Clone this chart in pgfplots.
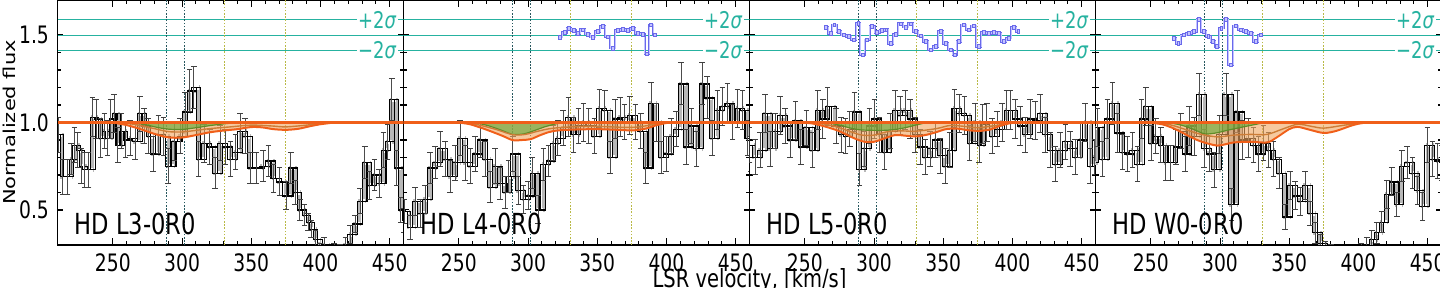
\documentclass[border=0pt]{standalone}
\usepackage{pgfplots}
\pgfplotsset{compat=1.18}
\usepackage{pgfplotstable}
\usepackage{fontspec}
\setmainfont{DejaVu Sans}
\usepackage{graphicx}

\definecolor{sig}{RGB}{38,178,160}
\definecolor{vteal}{RGB}{40,88,95}
\definecolor{volive}{RGB}{185,185,70}
\definecolor{ored}{RGB}{240,95,25}
\definecolor{omid}{RGB}{205,125,55}
\definecolor{ofill}{RGB}{240,165,95}
\definecolor{gfill}{RGB}{105,170,60}
\definecolor{gline}{RGB}{95,140,40}
\definecolor{resb}{RGB}{105,105,235}
\definecolor{resl}{RGB}{195,195,255}

\pgfplotstableread{
v f e
210.5 0.93 0.10
213.8 0.69 0.10
217.2 0.69 0.10
219.8 0.79 0.09
222.2 0.87 0.10
224.7 0.84 0.10
227.0 0.75 0.10
229.5 0.73 0.10
232.5 0.73 0.10
235.3 1.03 0.11
237.8 1.02 0.11
241.0 0.91 0.11
244.0 0.95 0.10
246.0 0.91 0.10
248.5 1.02 0.11
251.0 1.05 0.11
253.5 0.87 0.10
256.0 0.95 0.10
259.0 0.90 0.10
262.5 0.91 0.10
266.0 0.89 0.10
269.5 1.05 0.10
272.5 0.98 0.10
275.5 0.92 0.10
279.0 0.82 0.10
283.0 0.93 0.11
286.5 0.92 0.11
290.0 0.75 0.10
294.5 0.89 0.11
298.7 0.92 0.10
302.2 1.06 0.11
305.5 1.18 0.12
308.5 1.20 0.12
312.0 0.79 0.10
316.0 0.88 0.11
320.0 0.86 0.10
324.0 0.71 0.09
327.5 0.88 0.10
331.0 0.86 0.10
335.0 0.79 0.10
338.5 0.83 0.10
342.0 0.95 0.10
345.5 0.92 0.10
349.0 0.74 0.09
353.5 0.74 0.09
358.5 0.75 0.09
362.5 0.78 0.09
366.0 0.68 0.08
370.5 0.66 0.08
375.0 0.58 0.08
378.5 0.74 0.09
381.5 0.60 0.07
385.0 0.50 0.06
388.5 0.47 0.06
391.0 0.43 0.05
393.3 0.39 0.05
396.3 0.33 0.05
399.5 0.27 0.04
402.5 0.30 0.04
406.0 0.25 0.04
410.0 0.27 0.04
414.0 0.26 0.04
418.0 0.30 0.04
421.5 0.36 0.05
425.0 0.42 0.05
428.5 0.55 0.07
432.0 0.77 0.09
435.5 0.64 0.08
439.0 0.70 0.09
442.5 0.65 0.08
445.5 0.84 0.10
448.5 0.89 0.10
451.5 1.13 0.12
455.0 0.74 0.10
458.0 0.50 0.07
460.5 0.44 0.07
}\dataA

\pgfplotstableread{
v f e
210.5 0.49 0.07
214.8 0.40 0.07
218.3 0.55 0.08
222.0 0.48 0.08
225.7 0.56 0.08
229.2 0.74 0.09
232.9 0.77 0.09
236.4 0.85 0.10
240.0 0.79 0.10
243.8 0.69 0.09
247.2 0.77 0.10
250.9 0.91 0.10
254.5 0.77 0.10
258.0 0.75 0.10
261.8 0.82 0.10
265.3 0.90 0.10
268.9 0.79 0.10
272.6 0.63 0.09
276.2 0.75 0.10
279.8 0.65 0.09
283.3 0.60 0.09
286.0 0.69 0.09
289.0 0.82 0.10
293.0 0.61 0.08
296.7 0.56 0.08
300.0 0.58 0.08
303.0 0.71 0.09
307.2 0.50 0.08
311.2 0.76 0.09
314.8 0.78 0.09
318.1 0.88 0.10
321.5 0.91 0.10
325.3 0.97 0.10
329.2 1.03 0.11
332.8 0.93 0.10
336.5 0.98 0.10
340.1 1.00 0.11
343.9 0.98 0.10
347.9 0.92 0.10
351.5 1.08 0.11
355.4 1.07 0.11
359.3 0.80 0.09
363.0 1.02 0.11
366.5 1.03 0.11
369.8 1.00 0.10
373.5 1.04 0.11
377.5 1.00 0.10
381.4 0.95 0.10
385.0 0.74 0.09
388.8 1.11 0.12
392.5 1.00 0.11
396.1 0.80 0.09
399.7 0.82 0.10
403.3 0.92 0.10
406.9 0.96 0.10
410.6 1.22 0.12
414.2 0.86 0.10
417.9 0.98 0.10
421.8 0.85 0.10
425.6 1.22 0.12
429.2 1.14 0.12
433.0 0.91 0.10
436.9 1.07 0.11
440.5 1.09 0.11
444.1 1.11 0.11
447.7 1.00 0.10
451.4 1.08 0.11
455.0 1.07 0.11
458.5 0.91 0.10
461.0 0.82 0.10
}\dataB

\pgfplotstableread{
v f e
210.0 0.87 0.10
214.0 0.80 0.10
217.8 0.84 0.10
221.3 1.05 0.11
225.0 0.85 0.10
228.6 0.95 0.10
232.2 1.04 0.11
235.8 0.98 0.10
239.4 0.90 0.10
243.3 1.01 0.11
247.0 0.86 0.10
251.2 0.97 0.10
255.5 0.84 0.10
259.3 1.07 0.11
263.0 1.02 0.11
266.5 1.09 0.11
272.5 0.98 0.10
276.1 0.93 0.10
279.5 0.92 0.10
282.5 0.96 0.10
285.8 1.06 0.11
289.4 0.73 0.09
293.0 0.85 0.10
296.6 0.98 0.10
300.3 1.02 0.11
303.9 0.93 0.10
307.6 0.83 0.10
311.5 0.95 0.10
315.2 1.07 0.11
318.9 1.04 0.11
322.5 1.07 0.11
326.1 1.02 0.11
329.7 0.93 0.10
333.2 0.86 0.10
336.9 0.80 0.10
340.6 0.85 0.10
344.2 0.90 0.10
347.8 0.81 0.10
351.4 0.75 0.10
354.7 0.84 0.10
358.0 1.08 0.11
361.6 1.05 0.11
365.3 1.04 0.11
369.1 0.88 0.10
373.1 1.00 0.11
375.8 0.87 0.10
378.6 0.99 0.11
381.5 1.00 0.11
385.2 0.92 0.10
388.8 0.96 0.10
392.5 1.00 0.11
395.6 1.07 0.11
398.6 1.07 0.11
402.0 1.02 0.11
405.6 0.98 0.11
409.2 0.93 0.10
412.8 1.02 0.11
416.5 1.01 0.11
420.1 1.05 0.11
423.7 0.93 0.10
427.3 0.84 0.10
430.9 0.76 0.10
434.5 0.84 0.10
438.2 0.89 0.10
441.8 0.85 0.10
445.4 0.80 0.10
449.0 0.90 0.10
452.6 1.00 0.11
456.2 0.75 0.10
459.5 0.80 0.10
}\dataC

\pgfplotstableread{
v f e
207.8 0.77 0.10
211.4 0.97 0.11
215.0 0.79 0.10
218.6 1.02 0.11
222.2 1.11 0.12
225.8 0.94 0.11
229.5 0.83 0.10
233.1 0.82 0.10
236.7 0.84 0.10
240.3 0.76 0.10
243.3 1.02 0.11
246.3 1.09 0.11
250.0 0.88 0.10
253.6 0.92 0.10
257.2 0.87 0.10
260.8 0.77 0.10
264.4 0.77 0.10
268.0 0.86 0.10
271.6 0.95 0.10
274.6 0.82 0.10
277.6 0.98 0.11
281.3 0.92 0.11
285.0 1.16 0.12
288.6 0.85 0.11
292.0 0.82 0.10
295.8 0.73 0.10
299.5 0.93 0.11
304.2 1.16 0.12
308.3 0.53 0.09
312.2 1.06 0.12
316.0 0.90 0.11
320.2 0.91 0.11
324.2 0.87 0.10
327.8 0.82 0.10
331.4 0.88 0.10
335.0 0.84 0.10
338.6 0.79 0.10
342.8 0.71 0.09
347.0 0.46 0.07
350.6 0.64 0.08
354.2 0.58 0.08
357.8 0.55 0.08
361.4 0.64 0.08
365.0 0.48 0.07
368.7 0.37 0.06
372.3 0.31 0.05
376.0 0.27 0.05
380.0 0.25 0.05
384.0 0.22 0.05
390.0 0.20 0.05
396.0 0.22 0.05
402.0 0.26 0.05
406.0 0.29 0.05
409.6 0.33 0.05
413.2 0.37 0.06
416.8 0.43 0.06
420.5 0.59 0.08
424.1 0.66 0.08
427.7 0.53 0.07
431.3 0.75 0.09
435.2 0.77 0.09
439.0 0.71 0.09
442.6 0.61 0.08
446.2 0.52 0.08
449.8 0.87 0.10
453.4 0.79 0.10
457.2 0.78 0.10
460.5 0.77 0.10
}\dataD

\pgfplotstableread{
v r
323.1 1.488
326.5 1.514
329.5 1.539
332.8 1.526
336.0 1.510
339.5 1.530
343.0 1.505
346.5 1.488
350.2 1.520
353.8 1.549
357.4 1.490
361.0 1.425
364.7 1.526
368.3 1.533
372.0 1.526
375.5 1.539
379.2 1.510
382.8 1.505
385.8 1.392
388.8 1.558
391.8 1.500
}\resB

\pgfplotstableread{
v r
265.2 1.545
268.5 1.510
271.2 1.558
274.6 1.520
278.2 1.500
281.8 1.491
285.4 1.472
288.6 1.568
291.6 1.387
295.0 1.472
298.6 1.549
302.2 1.514
305.8 1.526
308.8 1.530
311.8 1.453
315.5 1.505
319.1 1.564
322.7 1.545
326.3 1.564
329.9 1.520
333.5 1.495
337.1 1.463
340.8 1.415
344.4 1.434
348.0 1.520
351.6 1.453
355.2 1.415
358.2 1.387
361.2 1.463
364.9 1.558
368.5 1.530
372.1 1.552
375.7 1.434
379.3 1.514
382.9 1.510
386.5 1.514
390.1 1.510
393.8 1.463
397.4 1.482
401.0 1.545
404.2 1.520
}\resC

\pgfplotstableread{
v r
266.5 1.482
269.8 1.453
273.5 1.500
277.6 1.510
281.3 1.520
284.9 1.590
288.2 1.520
291.5 1.491
294.8 1.463
297.9 1.434
300.9 1.539
304.2 1.590
307.8 1.330
311.4 1.552
315.0 1.530
318.6 1.520
322.2 1.510
325.8 1.463
329.4 1.500
}\resD

\pgfplotsset{
  panel/.style={
    scale only axis, width=221.79pt, height=122.5pt,
    anchor=south west,
    xmin=210, xmax=460, ymin=0.3, ymax=1.7,
    xtick={250,300,350,400,450}, minor x tick num=4,
    ytick={0.5,1.0,1.5}, minor y tick num=4,
    tick align=inside, xtick pos=both, ytick pos=both,
    major tick length=3.4pt, minor tick length=2pt,
    every tick/.style={black, line width=0.55pt},
    axis line style={line width=0.7pt},
    /pgf/number format/assume math mode=true,
    xticklabel style={font=\fontsize{12}{14}\selectfont, yshift=-1pt},
    yticklabel style={font=\fontsize{12}{14}\selectfont, /pgf/number format/fixed, /pgf/number format/fixed zerofill, /pgf/number format/precision=1, xshift=-2pt},
  },
  noy/.style={yticklabels={}},
}

\newcommand{\guides}{%
  \addplot[sig, line width=0.45pt] coordinates {(210,1.587) (460,1.587)};
  \addplot[sig, line width=0.45pt] coordinates {(210,1.5) (460,1.5)};
  \addplot[sig, line width=0.45pt] coordinates {(210,1.413) (460,1.413)};
  \addplot[vteal, line width=0.6pt, dash pattern=on 0.8pt off 0.8pt] coordinates {(289,0.3) (289,1.7)};
  \addplot[vteal, line width=0.6pt, dash pattern=on 0.8pt off 0.8pt] coordinates {(301.5,0.3) (301.5,1.7)};
  \addplot[volive, line width=0.6pt, dash pattern=on 0.8pt off 0.8pt] coordinates {(331,0.3) (331,1.7)};
  \addplot[volive, line width=0.6pt, dash pattern=on 0.8pt off 0.8pt] coordinates {(375,0.3) (375,1.7)};
}
\newcommand{\spec}[1]{%
  \addplot[const plot mark mid, black!28, line width=2pt, xshift=1pt] table[x=v,y=f] {#1};
  \addplot[jump mark mid, white, line width=2.1pt, xshift=1pt] table[x=v,y=f] {#1};
  \addplot[const plot mark mid, black, line width=0.7pt] table[x=v,y=f] {#1};
  \addplot[const plot mark mid, black, line width=0.7pt, xshift=2pt] table[x=v,y=f] {#1};
  \addplot[draw=none, mark=none, error bars/.cd, y dir=both, y explicit,
     error bar style={draw=black!70, line width=0.45pt},
     error mark options={rotate=90, draw=black!75, mark size=1.8pt, line width=0.5pt}] table[x=v,y=f,y error=e] {#1};
}
\newcommand{\resid}[1]{%
  \addplot[const plot mark mid, resb, line width=1.3pt] table[x=v,y=r] {#1};
  \addplot[const plot mark mid, resl, line width=0.45pt, mark=square*, mark size=0.9pt,
     mark options={fill=resl, draw=resb, line width=0.35pt}] table[x=v,y=r] {#1};
}
\newcommand{\siglabels}{%
  \node[anchor=east, fill=white, inner sep=1pt, text=sig, font=\fontsize{11.5}{13}\selectfont] at (rel axis cs:0.985,0.919) {+2\textit{σ}};
  \node[anchor=east, fill=white, inner sep=1pt, text=sig, font=\fontsize{11.5}{13}\selectfont] at (rel axis cs:0.985,0.795) {−2\textit{σ}};
}
\newcommand{\cont}{\addplot[ored, line width=1.2pt] coordinates {(210,1) (460,1)};}
\newcommand{\hd}[1]{\node[anchor=base west, font=\fontsize{14.5}{16}\selectfont] at (rel axis cs:0.033,0.041) {#1};}

\begin{document}
\scalebox{0.78}[1]{%
\begin{tikzpicture}
\useasboundingbox (-36.86pt,-21.5pt) rectangle (886.22pt,122.5pt);

% ---------------- panel 1
\begin{axis}[panel, at={(0pt,0pt)}]
\guides
\spec{\dataA}
\addplot[fill=ofill, fill opacity=0.6, draw=none, smooth] coordinates {(250,1) (260,0.985) (270,0.962) (280,0.935) (290,0.915) (300,0.914) (310,0.928) (320,0.944) (330,0.954) (340,0.962) (350,0.974) (358,0.972) (366,0.962) (375,0.958) (384,0.964) (392,0.978) (400,0.99) (410,1)} -- cycle;
\addplot[fill=gfill, fill opacity=0.65, draw=none, smooth] coordinates {(262,1) (272,0.99) (282,0.972) (290,0.962) (300,0.96) (310,0.97) (320,0.982) (330,0.992) (340,1)} -- cycle;
\addplot[gline, line width=0.6pt, smooth] coordinates {(262,1) (272,0.99) (282,0.972) (290,0.962) (300,0.96) (310,0.97) (320,0.982) (330,0.992) (340,1)};
\addplot[omid, line width=0.7pt, smooth] coordinates {(255,1) (265,0.99) (280,0.965) (290,0.948) (300,0.946) (310,0.955) (320,0.965) (335,0.975) (350,0.985) (365,0.98) (375,0.975) (390,0.985) (405,1)};
\addplot[ored, line width=1pt, smooth] coordinates {(250,1) (260,0.985) (270,0.962) (280,0.935) (290,0.915) (300,0.914) (310,0.928) (320,0.944) (330,0.954) (340,0.962) (350,0.974) (358,0.972) (366,0.962) (375,0.958) (384,0.964) (392,0.978) (400,0.99) (410,1)};
\cont
\siglabels
\hd{HD L3-0R0}
\end{axis}

% ---------------- panel 2
\begin{axis}[panel, noy, at={(221.79pt,0pt)}]
\guides
\spec{\dataB}
\addplot[fill=ofill, fill opacity=0.6, draw=none, smooth] coordinates {(250,1) (258,0.99) (266,0.97) (274,0.947) (282,0.922) (289,0.899) (296,0.9) (302,0.905) (308,0.925) (315,0.945) (322,0.955) (335,0.96) (350,0.962) (365,0.958) (376,0.955) (385,0.965) (393,0.985) (400,0.997) (405,1)} -- cycle;
\addplot[fill=gfill, fill opacity=0.65, draw=none, smooth] coordinates {(262,1) (272,0.98) (281,0.955) (289,0.932) (297,0.935) (305,0.955) (312,0.975) (320,0.992) (326,1)} -- cycle;
\addplot[gline, line width=0.6pt, smooth] coordinates {(262,1) (272,0.98) (281,0.955) (289,0.932) (297,0.935) (305,0.955) (312,0.975) (320,0.992) (326,1)};
\addplot[omid, line width=0.7pt, smooth] coordinates {(255,1) (265,0.985) (277,0.96) (289,0.93) (298,0.932) (307,0.95) (316,0.965) (330,0.975) (350,0.978) (370,0.972) (380,0.975) (392,0.99) (402,1)};
\addplot[ored, line width=1pt, smooth] coordinates {(250,1) (258,0.99) (266,0.97) (274,0.947) (282,0.922) (289,0.899) (296,0.9) (302,0.905) (308,0.925) (315,0.945) (322,0.955) (335,0.96) (350,0.962) (365,0.958) (376,0.955) (385,0.965) (393,0.985) (400,0.997) (405,1)};
\cont
\resid{\resB}
\siglabels
\hd{HD L4-0R0}
\end{axis}

% ---------------- panel 3
\begin{axis}[panel, noy, at={(443.58pt,0pt)}]
\guides
\spec{\dataC}
\addplot[fill=ofill, fill opacity=0.6, draw=none, smooth] coordinates {(245,1) (255,0.995) (265,0.976) (275,0.95) (285,0.912) (293,0.89) (300,0.89) (306,0.905) (315,0.928) (322,0.925) (330,0.92) (338,0.93) (345,0.945) (352,0.962) (360,0.965) (368,0.956) (376,0.952) (384,0.96) (390,0.978) (397,0.994) (403,1)} -- cycle;
\addplot[fill=gfill, fill opacity=0.65, draw=none, smooth] coordinates {(265,1) (275,0.985) (283,0.968) (290,0.958) (300,0.955) (310,0.956) (320,0.966) (330,0.985) (338,1)} -- cycle;
\addplot[gline, line width=0.6pt, smooth] coordinates {(265,1) (275,0.985) (283,0.968) (290,0.958) (300,0.955) (310,0.956) (320,0.966) (330,0.985) (338,1)};
\addplot[omid, line width=0.7pt, smooth] coordinates {(255,1) (265,0.99) (275,0.97) (290,0.93) (300,0.928) (310,0.948) (320,0.952) (330,0.95) (345,0.965) (355,0.983) (365,0.978) (375,0.97) (390,0.985) (400,1)};
\addplot[ored, line width=1pt, smooth] coordinates {(245,1) (255,0.995) (265,0.976) (275,0.95) (285,0.912) (293,0.89) (300,0.89) (306,0.905) (315,0.928) (322,0.925) (330,0.92) (338,0.93) (345,0.945) (352,0.962) (360,0.965) (368,0.956) (376,0.952) (384,0.96) (390,0.978) (397,0.994) (403,1)};
\cont
\resid{\resC}
\siglabels
\hd{HD L5-0R0}
\end{axis}

% ---------------- panel 4
\begin{axis}[panel, noy, at={(665.37pt,0pt)}]
\guides
\spec{\dataD}
\addplot[fill=ofill, fill opacity=0.6, draw=none, smooth] coordinates {(248,1) (258,0.99) (266,0.968) (272,0.945) (278,0.92) (285,0.895) (292,0.878) (298,0.868) (303,0.874) (310,0.886) (322,0.89) (334,0.886) (341,0.915) (350,0.962) (356,0.975) (365,0.958) (375,0.94) (384,0.952) (394,0.98) (400,0.993) (406,1)} -- cycle;
\addplot[fill=gfill, fill opacity=0.65, draw=none, smooth] coordinates {(262,1) (272,0.985) (281,0.96) (289,0.935) (297,0.94) (305,0.955) (315,0.972) (325,0.988) (332,1)} -- cycle;
\addplot[gline, line width=0.6pt, smooth] coordinates {(262,1) (272,0.985) (281,0.96) (289,0.935) (297,0.94) (305,0.955) (315,0.972) (325,0.988) (332,1)};
\addplot[omid, line width=0.7pt, smooth] coordinates {(255,1) (265,0.985) (275,0.96) (285,0.935) (298,0.918) (310,0.928) (322,0.932) (334,0.932) (345,0.962) (356,0.99) (366,0.978) (375,0.968) (390,0.985) (404,1)};
\addplot[ored, line width=1pt, smooth] coordinates {(248,1) (258,0.99) (266,0.968) (272,0.945) (278,0.92) (285,0.895) (292,0.878) (298,0.868) (303,0.874) (310,0.886) (322,0.89) (334,0.886) (341,0.915) (350,0.962) (356,0.975) (365,0.958) (375,0.94) (384,0.952) (394,0.98) (400,0.993) (406,1)};
\cont
\resid{\resD}
\siglabels
\hd{HD W0-0R0}
\end{axis}

\node[rotate=90, anchor=base, font=\fontsize{10.5}{12}\selectfont] at (-27.24pt,61.25pt) {Normalized flux};
\node[anchor=base, font=\fontsize{12.5}{14}\selectfont] at (443.58pt,-21.5pt) {LSR velocity, [km/s]};
\end{tikzpicture}%
}
\end{document}
